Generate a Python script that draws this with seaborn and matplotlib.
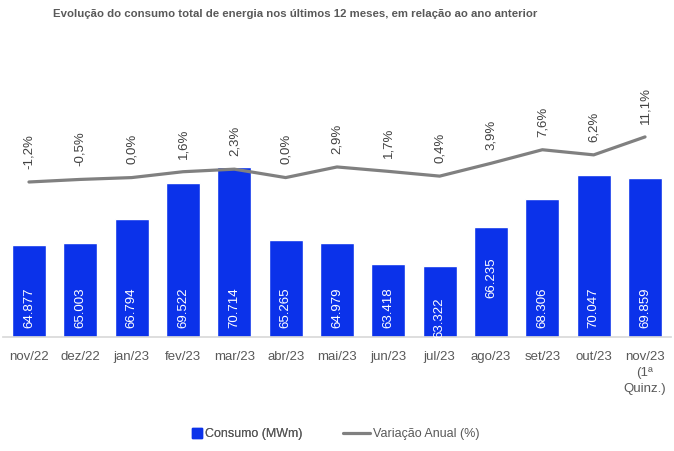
import numpy as np
import matplotlib
matplotlib.use("Agg")
import matplotlib.pyplot as plt
import seaborn as sns
from matplotlib.lines import Line2D

sns.set_theme(style="white")
plt.rcParams['font.family'] = ['Liberation Sans', 'DejaVu Sans']

# Data
meses = ["nov/22", "dez/22", "jan/23", "fev/23", "mar/23", "abr/23", "mai/23",
         "jun/23", "jul/23", "ago/23", "set/23", "out/23", "nov/23\n(1ª\nQuinz.)"]
consumo = [64877, 65003, 66794, 69522, 70714, 65265, 64979,
           63418, 63322, 66235, 68306, 70047, 69859]
variacao = [-1.2, -0.5, 0.0, 1.6, 2.3, 0.0, 2.9, 1.7, 0.4, 3.9, 7.6, 6.2, 11.1]

azul = "#0B32EA"
cinza = "#808080"
texto = "#595959"

W, H = 674, 451
fig = plt.figure(figsize=(W / 100, H / 100), dpi=100)
ax = fig.add_axes([3.3 / W, (H - 337) / H, 667.4 / W, 295 / H])

sns.barplot(x=meses, y=consumo, color=azul, saturation=1, width=0.66, ax=ax)
ax.set_ylim(58000, 80000)
ax.set_xlim(-0.5, 12.5)

# bar labels (white, rotated, near the base)
nudge = {8: -10, 9: 30}
for i, v in enumerate(consumo):
    off = (29 + nudge.get(i, 0)) * 0.72
    ax.annotate(f"{v:,}".replace(",", "."), xy=(i, 58000), xytext=(0, off),
                textcoords="offset points", rotation=90, ha="center", va="center",
                color="white", fontsize=9.5)

# secondary axis: annual variation
ax2 = ax.twinx()
sns.lineplot(x=np.arange(len(variacao)), y=variacao, color=cinza, linewidth=2.3, ax=ax2)
ax2.set_ylim(-43.5, 37)
ax2.set_xlim(-0.5, 12.5)
for i, v in enumerate(variacao):
    ax2.annotate(f"{v:.1f}%".replace(".", ","), xy=(i, v), xytext=(0, 9.5),
                 textcoords="offset points", rotation=90, ha="center", va="bottom",
                 color="#404040", fontsize=9.5)

for a in (ax, ax2):
    for s in a.spines.values():
        s.set_visible(False)
    a.set_yticks([])
    a.set_ylabel("")
    a.set_xlabel("")
ax.spines["bottom"].set_visible(True)
ax.spines["bottom"].set_color("#D9D9D9")
ax.tick_params(axis="x", length=0, pad=10, labelsize=9.5, labelcolor=texto)
for lbl in ax.get_xticklabels():
    lbl.set_linespacing(1.45)
ax2.tick_params(axis="x", length=0, labelbottom=False)

fig.text(295 / W, 1 - 14 / H,
         "Evolução do consumo total de energia nos últimos 12 meses, em relação ao ano anterior",
         ha="center", va="center", fontsize=8.2, fontweight="bold", color=texto)

h1 = [Line2D([], [], marker="s", linestyle="none", markersize=6.5, color=azul)]
h2 = [Line2D([], [], color=cinza, linewidth=2.3)]
leg1 = fig.legend(h1, ["Consumo (MWm)"], loc="center", bbox_to_anchor=(248 / W, 1 - 434 / H),
                  frameon=False, handlelength=0.6, handletextpad=0.3, fontsize=9,
                  labelcolor=texto)
fig.add_artist(leg1)
fig.legend(h2, ["Variação Anual (%)"], loc="center", bbox_to_anchor=(411 / W, 1 - 434 / H),
           frameon=False, handlelength=2.2, handletextpad=0.2, fontsize=9,
           labelcolor=texto)

fig.savefig("out.png", dpi=100)
